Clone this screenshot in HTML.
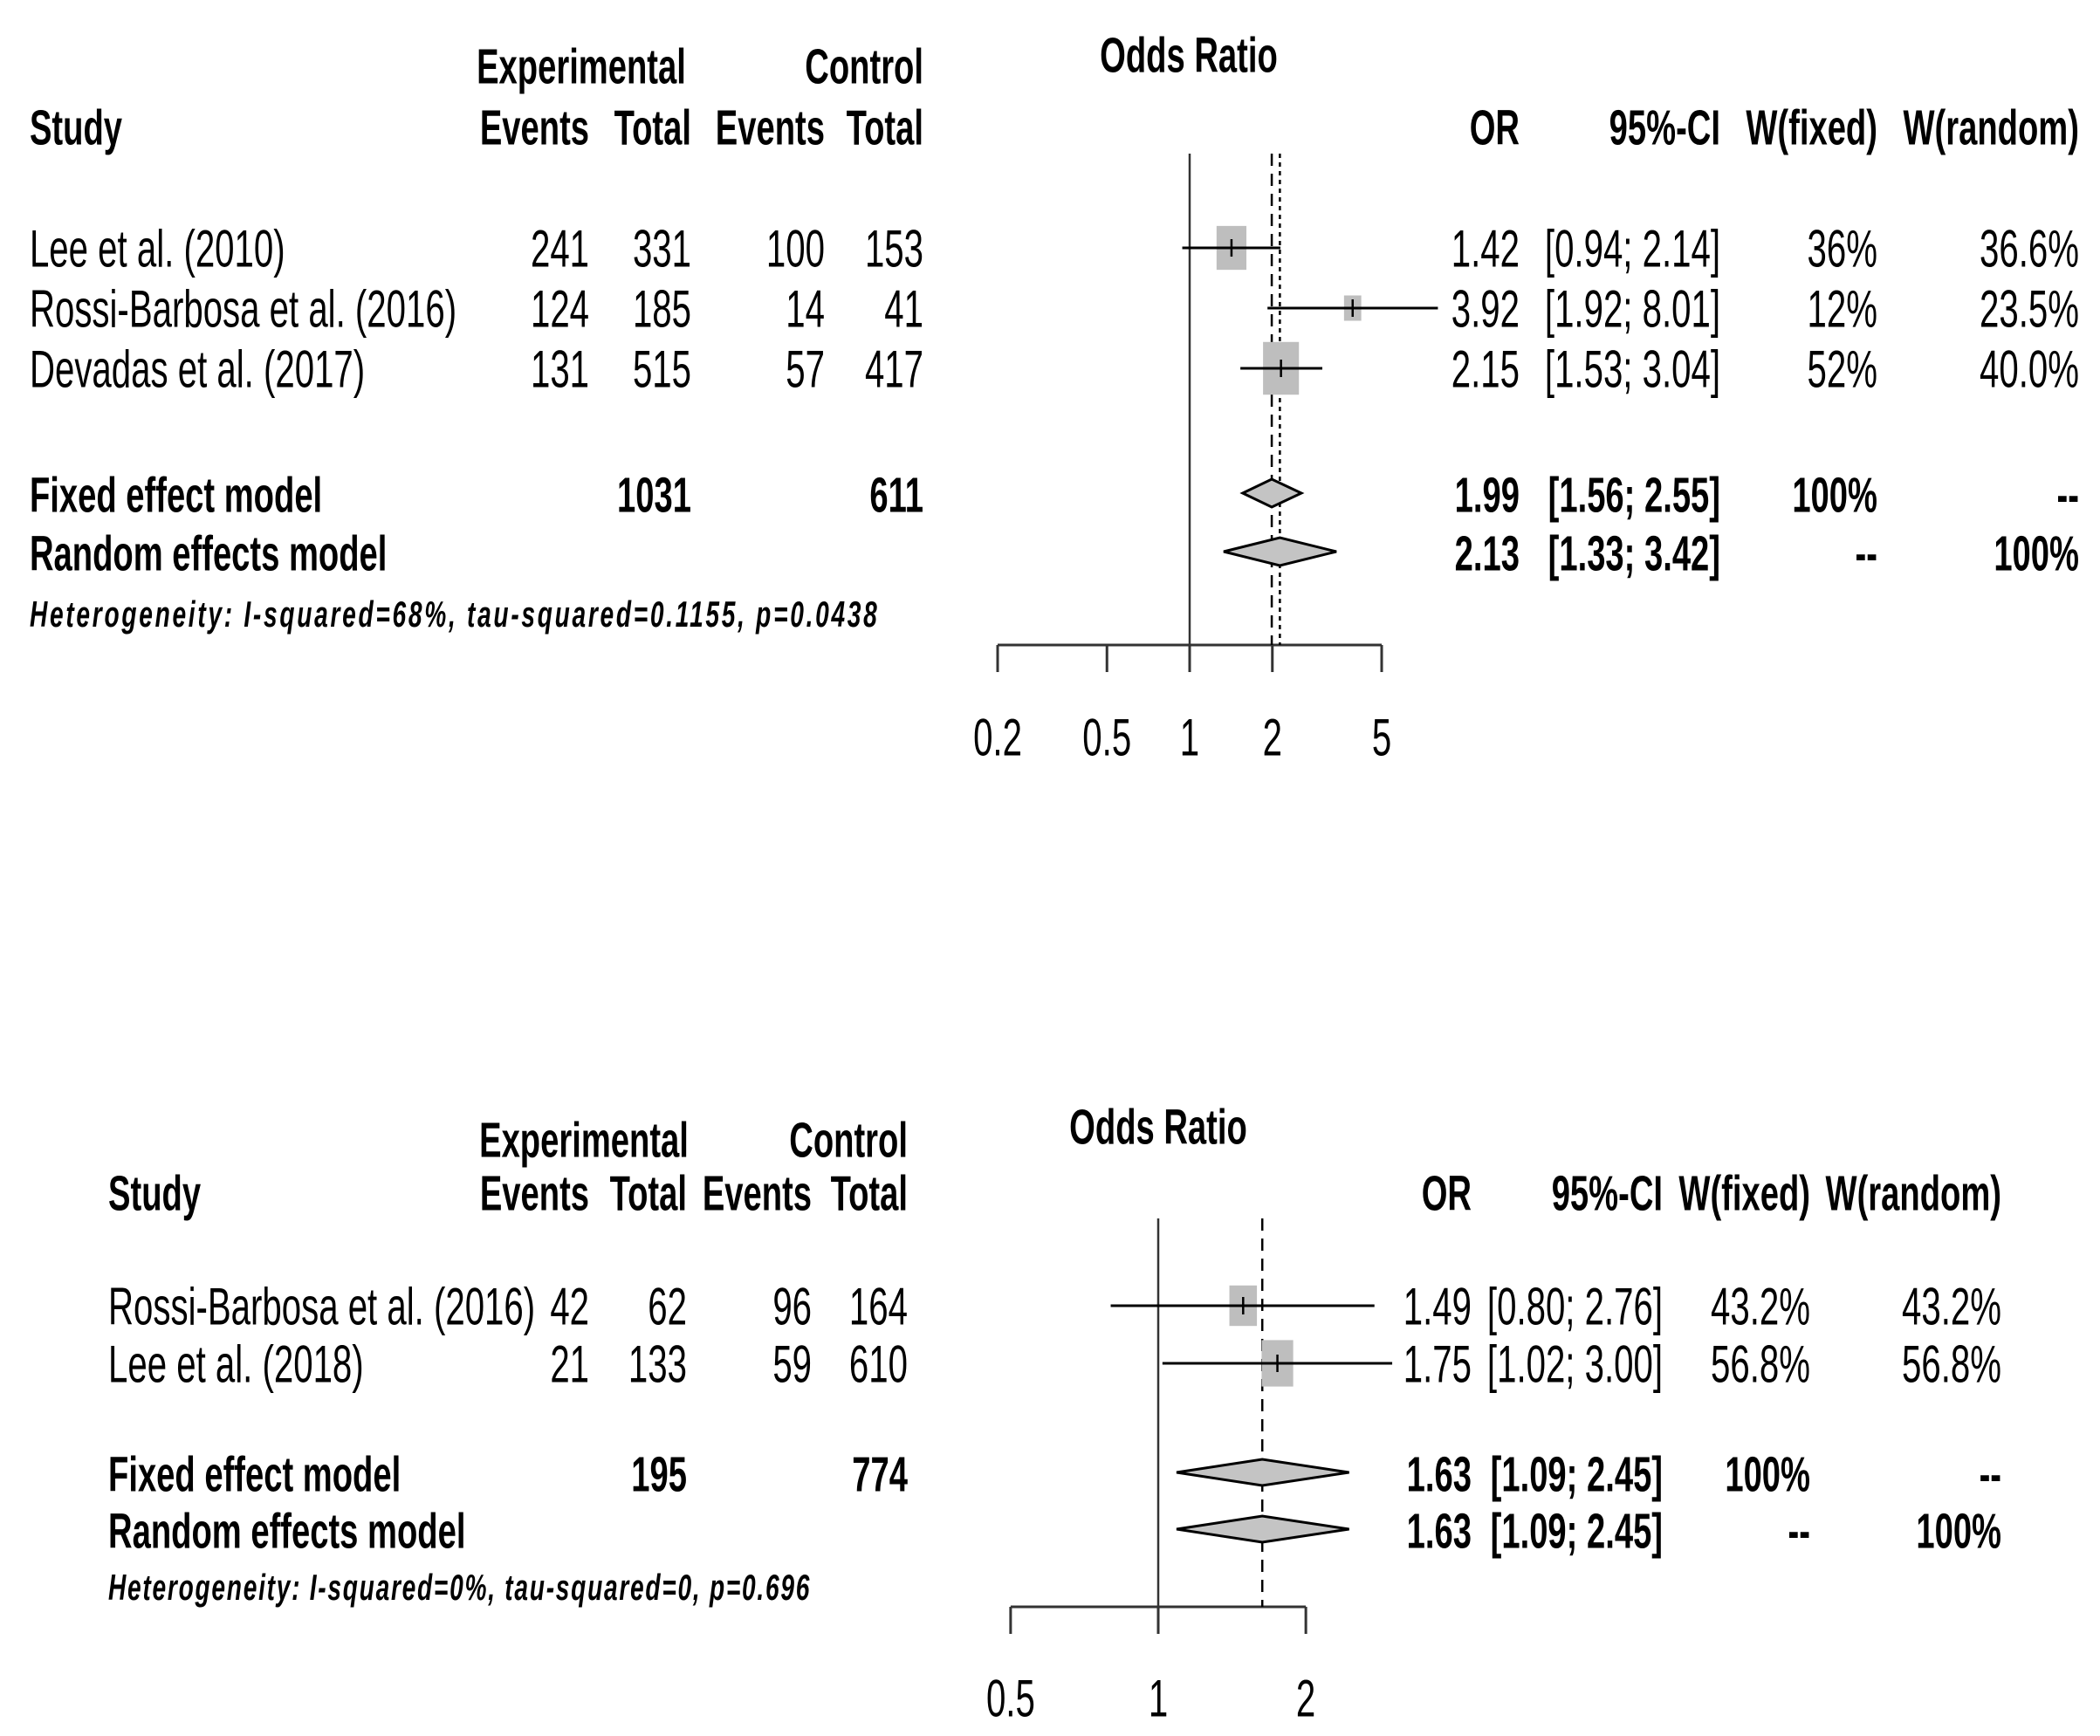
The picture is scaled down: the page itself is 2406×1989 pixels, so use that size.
<!DOCTYPE html>
<html><head><meta charset="utf-8"><style>
html,body{margin:0;padding:0;background:#fff;}
svg{display:block;}
text{font-family:"Liberation Sans",Arial,sans-serif;fill:#000;}
</style></head><body>
<svg id="chart" width="2406" height="1989" viewBox="0 0 2406 1989" xmlns="http://www.w3.org/2000/svg">
<g id="marks"></g>
<g id="txt" transform="scale(0.67,1)"></g>
</svg>
<script>
// ---- Panel 1 data ----
const p1Studies = ["Lee et al. (2010)", "Rossi-Barbosa et al. (2016)", "Devadas et al. (2017)"];
const p1ExpEvents = ["241", "124", "131"];
const p1ExpTotal = ["331", "185", "515"];
const p1CtlEvents = ["100", "14", "57"];
const p1CtlTotal = ["153", "41", "417"];
const p1OR = [1.42, 3.92, 2.15];
const p1Lo = [0.94, 1.92, 1.53];
const p1Hi = [2.14, 8.01, 3.04];
const p1WFixed = [36, 12, 52];
const p1WRandomLabels = ["36.6%", "23.5%", "40.0%"];
const p1Fixed = [1.99, 1.56, 2.55];
const p1Random = [2.13, 1.33, 3.42];
const p1Ticks = [0.2, 0.5, 1, 2, 5];
const p1TickLabels = ["0.2", "0.5", "1", "2", "5"];
// ---- Panel 2 data ----
const p2Studies = ["Rossi-Barbosa et al. (2016)", "Lee et al. (2018)"];
const p2ExpEvents = ["42", "21"];
const p2ExpTotal = ["62", "133"];
const p2CtlEvents = ["96", "59"];
const p2CtlTotal = ["164", "610"];
const p2OR = [1.49, 1.75];
const p2Lo = [0.80, 1.02];
const p2Hi = [2.76, 3.00];
const p2WFixed = [43.2, 56.8];
const p2WRandomLabels = ["43.2%", "56.8%"];
const p2Fixed = [1.63, 1.09, 2.45];
const p2Random = [1.63, 1.09, 2.45];
const p2Ticks = [0.5, 1, 2];
const p2TickLabels = ["0.5", "1", "2"];

const NS = "http://www.w3.org/2000/svg";
const marks = document.getElementById("marks");
const txt = document.getElementById("txt");
const SX = 0.67;
function f2(v){return v.toFixed(2);}
function T(x, y, s, anchor, bold, size, italic, name){
  const t = document.createElementNS(NS, "text");
  const sz = (bold && !italic) ? size * 0.95 : size;
  t.setAttribute("x", (x / SX).toFixed(1));
  t.setAttribute("y", y + size * 0.36);
  t.setAttribute("text-anchor", anchor);
  t.setAttribute("font-size", sz);
  if (bold) t.setAttribute("font-weight", "bold");
  if (italic) t.setAttribute("font-style", "italic");
  t.textContent = s;
  
  
  txt.appendChild(t);
  return t;
}
function L(x1, y1, x2, y2, stroke, w, dash, name){
  const l = document.createElementNS(NS, "line");
  l.setAttribute("x1", x1); l.setAttribute("y1", y1);
  l.setAttribute("x2", x2); l.setAttribute("y2", y2);
  l.setAttribute("stroke", stroke); l.setAttribute("stroke-width", w);
  if (dash) l.setAttribute("stroke-dasharray", dash);
  
  
  marks.appendChild(l);
}

function panel(cfg){
  const xs = v => cfg.x1 + cfg.k * Math.log(v);
  const fs = 60;
  T(cfg.orx, cfg.hdrY1, "Odds Ratio", "middle", true, fs, false, "odds-ratio-title");
  T(cfg.expC, cfg.hdrY2, "Experimental", "middle", true, fs, false, "experimental-header");
  T(cfg.c4, cfg.hdrY2, "Control", "end", true, fs, false, "control-header");
  T(cfg.studyX, cfg.hdrY3, "Study", "start", true, fs, false, "study-header");
  T(cfg.c1, cfg.hdrY3, "Events", "end", true, fs, false, "exp-events-header");
  T(cfg.c2, cfg.hdrY3, "Total", "end", true, fs, false, "exp-total-header");
  T(cfg.c3, cfg.hdrY3, "Events", "end", true, fs, false, "ctl-events-header");
  T(cfg.c4, cfg.hdrY3, "Total", "end", true, fs, false, "ctl-total-header");
  T(cfg.s1, cfg.hdrY3, "OR", "end", true, fs, false, "or-header");
  T(cfg.s2, cfg.hdrY3, "95%-CI", "end", true, fs, false, "ci-header");
  T(cfg.s3, cfg.hdrY3, "W(fixed)", "end", true, fs, false, "w-fixed-header");
  T(cfg.s4, cfg.hdrY3, "W(random)", "end", true, fs, false, "w-random-header");
  L(cfg.x1 + cfg.k*Math.log(cfg.ticks[0]), cfg.axY, cfg.x1 + cfg.k*Math.log(cfg.ticks[cfg.ticks.length-1]), cfg.axY, "#333", 3, null, "x-axis");
  cfg.ticks.forEach((t,i)=>{
    L(xs(t), cfg.axY, xs(t), cfg.axY + 31, "#333", 3, null, "x-tick");
    T(xs(t), cfg.tlY, cfg.tickLabels[i], "middle", false, fs, false, "x-tick-label");
  });
  L(xs(1), cfg.refTop, xs(1), cfg.axY, "#333", 2.5, null, "no-effect-line");
  L(xs(cfg.fixed[0]), cfg.refTop, xs(cfg.fixed[0]), cfg.axY, "#000", 2.5, "14,9", "fixed-effect-line");
  if (cfg.showRandom) L(xs(cfg.random[0]), cfg.refTop, xs(cfg.random[0]), cfg.axY, "#000", 2.5, "5,5", "random-effect-line");
  cfg.studies.forEach((s,i)=>{
    const y = cfg.rowY[i];
    T(cfg.studyX, y, s, "start", false, fs, false, "study-name");
    T(cfg.c1, y, cfg.ee[i], "end", false, fs, false, "exp-events");
    T(cfg.c2, y, cfg.et[i], "end", false, fs, false, "exp-total");
    T(cfg.c3, y, cfg.ce[i], "end", false, fs, false, "ctl-events");
    T(cfg.c4, y, cfg.ct[i], "end", false, fs, false, "ctl-total");
    T(cfg.s1, y, f2(cfg.or[i]), "end", false, fs, false, "or-value");
    T(cfg.s2, y, "[" + f2(cfg.lo[i]) + "; " + f2(cfg.hi[i]) + "]", "end", false, fs, false, "ci-value");
    T(cfg.s3, y, cfg.wfLabel(cfg.wf[i]), "end", false, fs, false, "w-fixed-value");
    T(cfg.s4, y, cfg.wr[i], "end", false, fs, false, "w-random-value");
    const w = cfg.sq * Math.sqrt(cfg.wf[i] / 100), h = w * 1.47;
    const r = document.createElementNS(NS, "rect");
    r.setAttribute("x", xs(cfg.or[i]) - w/2); r.setAttribute("y", y - h/2);
    r.setAttribute("width", w); r.setAttribute("height", h);
    r.setAttribute("fill", "#bebebe");
    
    
    marks.appendChild(r);
    L(xs(cfg.lo[i]), y, xs(cfg.hi[i]), y, "#000", 3, null, "ci-line");
    L(xs(cfg.or[i]), y - 10, xs(cfg.or[i]), y + 10, "#000", 2.5, null, "point-estimate");
  });
  const pooled = [[cfg.fixed, "Fixed effect model", cfg.fixY, cfg.totFixed, cfg.fixW],
                  [cfg.random, "Random effects model", cfg.ranY, null, cfg.ranW]];
  pooled.forEach((p,j)=>{
    const [v, label, y, tot, ws] = p;
    T(cfg.studyX, y, label, "start", true, fs, false, j ? "random-model-label" : "fixed-model-label");
    if (tot){ T(cfg.c2, y, tot[0], "end", true, fs, false, "exp-total-sum"); T(cfg.c4, y, tot[1], "end", true, fs, false, "ctl-total-sum"); }
    T(cfg.s1, y, f2(v[0]), "end", true, fs, false, "pooled-or");
    T(cfg.s2, y, "[" + f2(v[1]) + "; " + f2(v[2]) + "]", "end", true, fs, false, "pooled-ci");
    T(cfg.s3, y, ws[0], "end", true, fs, false, "pooled-w-fixed");
    T(cfg.s4, y, ws[1], "end", true, fs, false, "pooled-w-random");
    const hh = cfg.dh;
    const d = document.createElementNS(NS, "polygon");
    d.setAttribute("points", `${xs(v[1])},${y} ${xs(v[0])},${y-hh} ${xs(v[2])},${y} ${xs(v[0])},${y+hh}`);
    d.setAttribute("fill", "#c4c4c4"); d.setAttribute("stroke", "#000"); d.setAttribute("stroke-width", 3);
    
    
    marks.appendChild(d);
  });
  T(cfg.studyX, cfg.hetY, cfg.het, "start", true, 42, true, "heterogeneity-note").setAttribute("textLength", (cfg.hetW / SX).toFixed(0));
}

panel({x1:1363, k:136.7, ticks:p1Ticks, tickLabels:p1TickLabels, axY:739, tlY:844, refTop:176,
  orx:1362, hdrY1:61, hdrY2:74, hdrY3:144, expC:666, studyX:34,
  c1:675, c2:792, c3:945, c4:1058, s1:1741, s2:1971, s3:2151, s4:2382,
  studies:p1Studies, ee:p1ExpEvents, et:p1ExpTotal, ce:p1CtlEvents, ct:p1CtlTotal,
  or:p1OR, lo:p1Lo, hi:p1Hi, wf:p1WFixed, wr:p1WRandomLabels, wfLabel:v=>v+"%",
  rowY:[284,353,422], sq:57, fixed:p1Fixed, random:p1Random, showRandom:true,
  fixY:565, ranY:632, totFixed:["1031","611"], fixW:["100%","--"], ranW:["--","100%"], dh:16,
  hetY:703, het:"Heterogeneity: I-squared=68%, tau-squared=0.1155, p=0.0438", hetW:971});

panel({x1:1327, k:244, ticks:p2Ticks, tickLabels:p2TickLabels, axY:1841, tlY:1945, refTop:1396,
  orx:1327, hdrY1:1289, hdrY2:1304, hdrY3:1365, expC:669, studyX:124,
  c1:675, c2:787, c3:930, c4:1040, s1:1686, s2:1905, s3:2074, s4:2293,
  studies:p2Studies, ee:p2ExpEvents, et:p2ExpTotal, ce:p2CtlEvents, ct:p2CtlTotal,
  or:p2OR, lo:p2Lo, hi:p2Hi, wf:p2WFixed, wr:p2WRandomLabels, wfLabel:v=>v.toFixed(1)+"%",
  rowY:[1496,1562], sq:48, fixed:p2Fixed, random:p2Random, showRandom:false,
  fixY:1687, ranY:1752, totFixed:["195","774"], fixW:["100%","--"], ranW:["--","100%"], dh:15,
  hetY:1818, het:"Heterogeneity: I-squared=0%, tau-squared=0, p=0.696", hetW:803});
</script>
</body></html>
